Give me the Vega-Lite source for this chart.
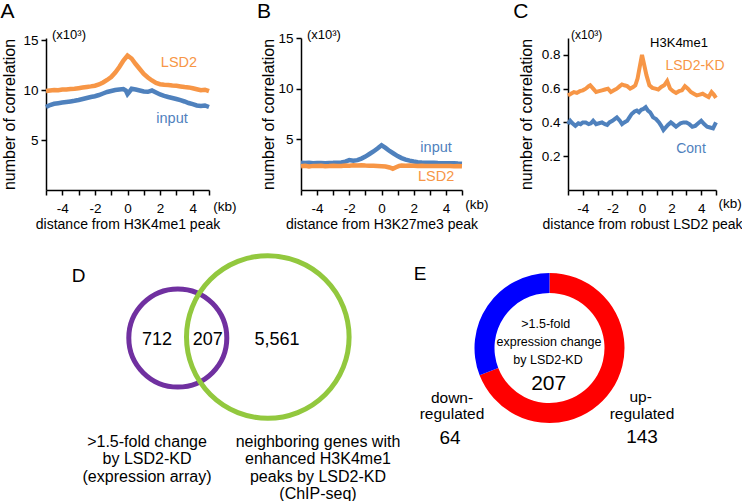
{
  "$schema": "https://vega.github.io/schema/vega-lite/v6.json",
  "padding": 0,
  "background": "white",
  "config": {
    "font": "Liberation Sans",
    "view": {"stroke": null},
    "axis": {"grid": false, "domainColor": "#000", "domainWidth": 1.5, "tickColor": "#000", "tickWidth": 1.5, "labelColor": "#000", "titleColor": "#000", "labelFontSize": 13.5, "titleFontWeight": "normal", "labelFont": "Liberation Sans", "titleFont": "Liberation Sans"},
    "axisX": {"tickSize": 5, "labelPadding": 6, "titleFontSize": 14, "titlePadding": 3, "labelFlush": false, "labelOverlap": false, "labelAngle": 0},
    "axisY": {"tickSize": 5, "labelPadding": 3, "titleFontSize": 16, "labelOverlap": false}
  },
  "datasets": {
    "a": [
      {"s":"LSD2","kb":-5,"v":9.9},{"s":"LSD2","kb":-4.75,"v":9.95},{"s":"LSD2","kb":-4.5,"v":10.0},{"s":"LSD2","kb":-4.25,"v":9.97},{"s":"LSD2","kb":-4,"v":10.05},{"s":"LSD2","kb":-3.75,"v":10.04},{"s":"LSD2","kb":-3.5,"v":10.1},{"s":"LSD2","kb":-3.25,"v":10.12},{"s":"LSD2","kb":-3,"v":10.18},{"s":"LSD2","kb":-2.75,"v":10.24},{"s":"LSD2","kb":-2.5,"v":10.3},{"s":"LSD2","kb":-2.25,"v":10.36},{"s":"LSD2","kb":-2,"v":10.43},{"s":"LSD2","kb":-1.75,"v":10.55},{"s":"LSD2","kb":-1.5,"v":10.75},{"s":"LSD2","kb":-1.25,"v":11.0},{"s":"LSD2","kb":-1,"v":11.3},{"s":"LSD2","kb":-0.75,"v":11.75},{"s":"LSD2","kb":-0.5,"v":12.3},{"s":"LSD2","kb":-0.25,"v":12.95},{"s":"LSD2","kb":0,"v":13.45},{"s":"LSD2","kb":0.25,"v":13.15},{"s":"LSD2","kb":0.5,"v":12.6},{"s":"LSD2","kb":0.75,"v":12.1},{"s":"LSD2","kb":1,"v":11.6},{"s":"LSD2","kb":1.25,"v":11.25},{"s":"LSD2","kb":1.5,"v":10.95},{"s":"LSD2","kb":1.75,"v":10.7},{"s":"LSD2","kb":2,"v":10.58},{"s":"LSD2","kb":2.25,"v":10.52},{"s":"LSD2","kb":2.5,"v":10.5},{"s":"LSD2","kb":2.75,"v":10.45},{"s":"LSD2","kb":3,"v":10.42},{"s":"LSD2","kb":3.25,"v":10.36},{"s":"LSD2","kb":3.5,"v":10.3},{"s":"LSD2","kb":3.75,"v":10.26},{"s":"LSD2","kb":4,"v":10.18},{"s":"LSD2","kb":4.25,"v":10.08},{"s":"LSD2","kb":4.5,"v":9.98},{"s":"LSD2","kb":4.75,"v":10.03},{"s":"LSD2","kb":5,"v":9.88},
      {"s":"input","kb":-5,"v":8.3},{"s":"input","kb":-4.75,"v":8.5},{"s":"input","kb":-4.5,"v":8.62},{"s":"input","kb":-4.25,"v":8.68},{"s":"input","kb":-4,"v":8.74},{"s":"input","kb":-3.75,"v":8.8},{"s":"input","kb":-3.5,"v":8.86},{"s":"input","kb":-3.25,"v":8.92},{"s":"input","kb":-3,"v":9.0},{"s":"input","kb":-2.75,"v":9.1},{"s":"input","kb":-2.5,"v":9.2},{"s":"input","kb":-2.25,"v":9.3},{"s":"input","kb":-2,"v":9.38},{"s":"input","kb":-1.75,"v":9.5},{"s":"input","kb":-1.5,"v":9.65},{"s":"input","kb":-1.25,"v":9.8},{"s":"input","kb":-1,"v":9.9},{"s":"input","kb":-0.75,"v":10.0},{"s":"input","kb":-0.5,"v":10.05},{"s":"input","kb":-0.25,"v":10.1},{"s":"input","kb":-0.1,"v":9.95},{"s":"input","kb":0,"v":9.6},{"s":"input","kb":0.1,"v":9.8},{"s":"input","kb":0.25,"v":10.12},{"s":"input","kb":0.5,"v":10.05},{"s":"input","kb":0.75,"v":9.95},{"s":"input","kb":1,"v":9.85},{"s":"input","kb":1.25,"v":9.82},{"s":"input","kb":1.5,"v":9.95},{"s":"input","kb":1.75,"v":9.75},{"s":"input","kb":2,"v":9.55},{"s":"input","kb":2.25,"v":9.42},{"s":"input","kb":2.5,"v":9.3},{"s":"input","kb":2.75,"v":9.2},{"s":"input","kb":3,"v":9.1},{"s":"input","kb":3.25,"v":8.98},{"s":"input","kb":3.5,"v":8.85},{"s":"input","kb":3.75,"v":8.7},{"s":"input","kb":4,"v":8.58},{"s":"input","kb":4.25,"v":8.45},{"s":"input","kb":4.5,"v":8.4},{"s":"input","kb":4.75,"v":8.45},{"s":"input","kb":5,"v":8.3}
    ],
    "b": [
      {"s":"input","kb":-5,"v":2.68},{"s":"input","kb":-4.75,"v":2.66},{"s":"input","kb":-4.5,"v":2.69},{"s":"input","kb":-4.25,"v":2.65},{"s":"input","kb":-4,"v":2.67},{"s":"input","kb":-3.75,"v":2.66},{"s":"input","kb":-3.5,"v":2.65},{"s":"input","kb":-3.25,"v":2.67},{"s":"input","kb":-3,"v":2.68},{"s":"input","kb":-2.75,"v":2.7},{"s":"input","kb":-2.5,"v":2.72},{"s":"input","kb":-2.25,"v":2.8},{"s":"input","kb":-2,"v":2.95},{"s":"input","kb":-1.75,"v":2.88},{"s":"input","kb":-1.5,"v":2.95},{"s":"input","kb":-1.25,"v":3.1},{"s":"input","kb":-1,"v":3.3},{"s":"input","kb":-0.75,"v":3.55},{"s":"input","kb":-0.5,"v":3.8},{"s":"input","kb":-0.25,"v":4.1},{"s":"input","kb":0,"v":4.42},{"s":"input","kb":0.25,"v":4.15},{"s":"input","kb":0.5,"v":3.85},{"s":"input","kb":0.75,"v":3.6},{"s":"input","kb":1,"v":3.35},{"s":"input","kb":1.25,"v":3.15},{"s":"input","kb":1.5,"v":3.0},{"s":"input","kb":1.75,"v":2.9},{"s":"input","kb":2,"v":2.82},{"s":"input","kb":2.25,"v":2.75},{"s":"input","kb":2.5,"v":2.72},{"s":"input","kb":2.75,"v":2.7},{"s":"input","kb":3,"v":2.7},{"s":"input","kb":3.25,"v":2.68},{"s":"input","kb":3.5,"v":2.66},{"s":"input","kb":3.75,"v":2.65},{"s":"input","kb":4,"v":2.64},{"s":"input","kb":4.25,"v":2.63},{"s":"input","kb":4.5,"v":2.65},{"s":"input","kb":4.75,"v":2.62},{"s":"input","kb":5,"v":2.6},
      {"s":"LSD2","kb":-5,"v":2.35},{"s":"LSD2","kb":-4.75,"v":2.4},{"s":"LSD2","kb":-4.5,"v":2.33},{"s":"LSD2","kb":-4.25,"v":2.38},{"s":"LSD2","kb":-4,"v":2.36},{"s":"LSD2","kb":-3.75,"v":2.4},{"s":"LSD2","kb":-3.5,"v":2.35},{"s":"LSD2","kb":-3.25,"v":2.37},{"s":"LSD2","kb":-3,"v":2.4},{"s":"LSD2","kb":-2.75,"v":2.36},{"s":"LSD2","kb":-2.5,"v":2.38},{"s":"LSD2","kb":-2.25,"v":2.42},{"s":"LSD2","kb":-2,"v":2.4},{"s":"LSD2","kb":-1.75,"v":2.45},{"s":"LSD2","kb":-1.5,"v":2.42},{"s":"LSD2","kb":-1.25,"v":2.45},{"s":"LSD2","kb":-1,"v":2.42},{"s":"LSD2","kb":-0.75,"v":2.4},{"s":"LSD2","kb":-0.5,"v":2.4},{"s":"LSD2","kb":-0.25,"v":2.38},{"s":"LSD2","kb":0,"v":2.35},{"s":"LSD2","kb":0.25,"v":2.32},{"s":"LSD2","kb":0.5,"v":2.22},{"s":"LSD2","kb":0.7,"v":2.1},{"s":"LSD2","kb":0.9,"v":2.25},{"s":"LSD2","kb":1.1,"v":2.38},{"s":"LSD2","kb":1.25,"v":2.42},{"s":"LSD2","kb":1.5,"v":2.4},{"s":"LSD2","kb":1.75,"v":2.42},{"s":"LSD2","kb":2,"v":2.4},{"s":"LSD2","kb":2.25,"v":2.38},{"s":"LSD2","kb":2.5,"v":2.4},{"s":"LSD2","kb":2.75,"v":2.38},{"s":"LSD2","kb":3,"v":2.36},{"s":"LSD2","kb":3.25,"v":2.38},{"s":"LSD2","kb":3.5,"v":2.36},{"s":"LSD2","kb":3.75,"v":2.38},{"s":"LSD2","kb":4,"v":2.36},{"s":"LSD2","kb":4.25,"v":2.38},{"s":"LSD2","kb":4.5,"v":2.35},{"s":"LSD2","kb":4.75,"v":2.37},{"s":"LSD2","kb":5,"v":2.35}
    ],
    "c": [
      {"s":"LSD2-KD","kb":-5,"v":0.56},{"s":"LSD2-KD","kb":-4.8,"v":0.57},{"s":"LSD2-KD","kb":-4.6,"v":0.58},{"s":"LSD2-KD","kb":-4.4,"v":0.575},{"s":"LSD2-KD","kb":-4.2,"v":0.585},{"s":"LSD2-KD","kb":-4.0,"v":0.59},{"s":"LSD2-KD","kb":-3.8,"v":0.6},{"s":"LSD2-KD","kb":-3.6,"v":0.615},{"s":"LSD2-KD","kb":-3.5,"v":0.62},{"s":"LSD2-KD","kb":-3.3,"v":0.6},{"s":"LSD2-KD","kb":-3.1,"v":0.58},{"s":"LSD2-KD","kb":-2.9,"v":0.585},{"s":"LSD2-KD","kb":-2.7,"v":0.59},{"s":"LSD2-KD","kb":-2.5,"v":0.595},{"s":"LSD2-KD","kb":-2.3,"v":0.6},{"s":"LSD2-KD","kb":-2.1,"v":0.58},{"s":"LSD2-KD","kb":-1.9,"v":0.59},{"s":"LSD2-KD","kb":-1.7,"v":0.6},{"s":"LSD2-KD","kb":-1.5,"v":0.615},{"s":"LSD2-KD","kb":-1.35,"v":0.625},{"s":"LSD2-KD","kb":-1.2,"v":0.62},{"s":"LSD2-KD","kb":-1.0,"v":0.615},{"s":"LSD2-KD","kb":-0.8,"v":0.6},{"s":"LSD2-KD","kb":-0.6,"v":0.61},{"s":"LSD2-KD","kb":-0.45,"v":0.62},{"s":"LSD2-KD","kb":-0.3,"v":0.66},{"s":"LSD2-KD","kb":-0.15,"v":0.73},{"s":"LSD2-KD","kb":0,"v":0.8},{"s":"LSD2-KD","kb":0.15,"v":0.74},{"s":"LSD2-KD","kb":0.3,"v":0.68},{"s":"LSD2-KD","kb":0.5,"v":0.62},{"s":"LSD2-KD","kb":0.7,"v":0.605},{"s":"LSD2-KD","kb":0.9,"v":0.6},{"s":"LSD2-KD","kb":1.1,"v":0.595},{"s":"LSD2-KD","kb":1.3,"v":0.61},{"s":"LSD2-KD","kb":1.5,"v":0.62},{"s":"LSD2-KD","kb":1.7,"v":0.645},{"s":"LSD2-KD","kb":1.9,"v":0.6},{"s":"LSD2-KD","kb":2.1,"v":0.585},{"s":"LSD2-KD","kb":2.3,"v":0.575},{"s":"LSD2-KD","kb":2.5,"v":0.585},{"s":"LSD2-KD","kb":2.7,"v":0.59},{"s":"LSD2-KD","kb":2.9,"v":0.615},{"s":"LSD2-KD","kb":3.1,"v":0.6},{"s":"LSD2-KD","kb":3.3,"v":0.58},{"s":"LSD2-KD","kb":3.5,"v":0.57},{"s":"LSD2-KD","kb":3.7,"v":0.56},{"s":"LSD2-KD","kb":3.9,"v":0.565},{"s":"LSD2-KD","kb":4.1,"v":0.57},{"s":"LSD2-KD","kb":4.3,"v":0.56},{"s":"LSD2-KD","kb":4.5,"v":0.55},{"s":"LSD2-KD","kb":4.7,"v":0.58},{"s":"LSD2-KD","kb":4.85,"v":0.565},{"s":"LSD2-KD","kb":5,"v":0.545},
      {"s":"Cont","kb":-5,"v":0.39},{"s":"Cont","kb":-4.85,"v":0.41},{"s":"Cont","kb":-4.7,"v":0.395},{"s":"Cont","kb":-4.5,"v":0.38},{"s":"Cont","kb":-4.3,"v":0.395},{"s":"Cont","kb":-4.15,"v":0.39},{"s":"Cont","kb":-4.0,"v":0.4},{"s":"Cont","kb":-3.8,"v":0.4},{"s":"Cont","kb":-3.6,"v":0.39},{"s":"Cont","kb":-3.45,"v":0.395},{"s":"Cont","kb":-3.3,"v":0.41},{"s":"Cont","kb":-3.1,"v":0.39},{"s":"Cont","kb":-2.9,"v":0.395},{"s":"Cont","kb":-2.7,"v":0.4},{"s":"Cont","kb":-2.5,"v":0.39},{"s":"Cont","kb":-2.35,"v":0.385},{"s":"Cont","kb":-2.2,"v":0.4},{"s":"Cont","kb":-2.0,"v":0.41},{"s":"Cont","kb":-1.85,"v":0.42},{"s":"Cont","kb":-1.7,"v":0.43},{"s":"Cont","kb":-1.5,"v":0.41},{"s":"Cont","kb":-1.35,"v":0.39},{"s":"Cont","kb":-1.2,"v":0.4},{"s":"Cont","kb":-1.0,"v":0.41},{"s":"Cont","kb":-0.85,"v":0.43},{"s":"Cont","kb":-0.7,"v":0.45},{"s":"Cont","kb":-0.5,"v":0.465},{"s":"Cont","kb":-0.35,"v":0.47},{"s":"Cont","kb":-0.2,"v":0.46},{"s":"Cont","kb":-0.05,"v":0.475},{"s":"Cont","kb":0.1,"v":0.48},{"s":"Cont","kb":0.25,"v":0.49},{"s":"Cont","kb":0.4,"v":0.47},{"s":"Cont","kb":0.55,"v":0.46},{"s":"Cont","kb":0.75,"v":0.43},{"s":"Cont","kb":0.95,"v":0.42},{"s":"Cont","kb":1.15,"v":0.4},{"s":"Cont","kb":1.3,"v":0.38},{"s":"Cont","kb":1.45,"v":0.355},{"s":"Cont","kb":1.6,"v":0.37},{"s":"Cont","kb":1.75,"v":0.385},{"s":"Cont","kb":1.95,"v":0.4},{"s":"Cont","kb":2.1,"v":0.39},{"s":"Cont","kb":2.3,"v":0.375},{"s":"Cont","kb":2.45,"v":0.385},{"s":"Cont","kb":2.6,"v":0.395},{"s":"Cont","kb":2.8,"v":0.4},{"s":"Cont","kb":3.0,"v":0.4},{"s":"Cont","kb":3.2,"v":0.39},{"s":"Cont","kb":3.4,"v":0.375},{"s":"Cont","kb":3.6,"v":0.38},{"s":"Cont","kb":3.8,"v":0.395},{"s":"Cont","kb":4.0,"v":0.41},{"s":"Cont","kb":4.2,"v":0.39},{"s":"Cont","kb":4.4,"v":0.375},{"s":"Cont","kb":4.6,"v":0.37},{"s":"Cont","kb":4.8,"v":0.365},{"s":"Cont","kb":5,"v":0.4}
    ]
  },
  "vconcat": [
    {
      "hconcat": [
        {
          "width": 163, "height": 152,
          "encoding": {
            "x": {"field": "kb", "type": "quantitative", "scale": {"domain": [-5, 5], "nice": false, "zero": false}, "axis": {"values": [-5,-4,-3,-2,-1,0,1,2,3,4,5], "labelExpr": "datum.value % 2 == 0 ? '' + datum.value : ''", "title": "distance from H3K4me1 peak"}},
            "y": {"field": "v", "type": "quantitative", "scale": {"domain": [0, 15.2], "nice": false}, "axis": {"values": [5, 10, 15], "title": "number of correlation", "titlePadding": 5.6}}
          },
          "layer": [
            {"data": {"name": "a"}, "mark": {"type": "line", "strokeWidth": 4.5}, "encoding": {"color": {"field": "s", "type": "nominal", "scale": {"domain": ["LSD2", "input"], "range": ["#F79646", "#4F81BD"]}, "legend": null}}},
            {"data": {"values": [{"s": "LSD2", "kb": 3.16, "v": 12.7}, {"s": "input", "kb": 2.73, "v": 7.1}]}, "mark": {"type": "text", "fontSize": 14.5}, "encoding": {"text": {"field": "s"}, "color": {"field": "s", "type": "nominal", "legend": null}}},
            {"data": {"values": [{"t": "(x10³)", "kb": -4.63, "v": 15.5}]}, "mark": {"type": "text", "fontSize": 13, "align": "left", "color": "#000"}, "encoding": {"text": {"field": "t"}}},
            {"data": {"values": [{"t": "(kb)", "kb": 5.98, "v": -1.7}]}, "mark": {"type": "text", "fontSize": 13.5, "color": "#000"}, "encoding": {"text": {"field": "t"}}},
            {"data": {"values": [{"t": "A", "kb": -7.36, "v": 17.8}]}, "mark": {"type": "text", "fontSize": 21, "color": "#000"}, "encoding": {"text": {"field": "t"}}}
          ]
        },
        {
          "hconcat": [
            {
              "width": 161, "height": 152,
              "encoding": {
                "x": {"field": "kb", "type": "quantitative", "scale": {"domain": [-5, 5], "nice": false, "zero": false}, "axis": {"values": [-5,-4,-3,-2,-1,0,1,2,3,4,5], "labelExpr": "datum.value % 2 == 0 ? '' + datum.value : ''", "title": "distance from H3K27me3 peak"}},
                "y": {"field": "v", "type": "quantitative", "scale": {"domain": [0, 15], "nice": false}, "axis": {"values": [5, 10, 15], "title": "number of correlation", "titlePadding": 1.6}}
              },
              "layer": [
                {"data": {"name": "b"}, "mark": {"type": "line", "strokeWidth": 4.5}, "encoding": {"color": {"field": "s", "type": "nominal", "scale": {"domain": ["LSD2", "input"], "range": ["#F79646", "#4F81BD"]}, "legend": null}}},
                {"data": {"values": [{"s": "input", "kb": 3.39, "v": 4.14}, {"s": "LSD2", "kb": 3.39, "v": 1.28}]}, "mark": {"type": "text", "fontSize": 14.5}, "encoding": {"text": {"field": "s"}, "color": {"field": "s", "type": "nominal", "legend": null}}},
                {"data": {"values": [{"t": "(x10³)", "kb": -4.63, "v": 15.3}]}, "mark": {"type": "text", "fontSize": 13, "align": "left", "color": "#000"}, "encoding": {"text": {"field": "t"}}},
                {"data": {"values": [{"t": "(kb)", "kb": 5.93, "v": -1.48}]}, "mark": {"type": "text", "fontSize": 13.5, "color": "#000"}, "encoding": {"text": {"field": "t"}}},
                {"data": {"values": [{"t": "B", "kb": -7.3, "v": 17.57}]}, "mark": {"type": "text", "fontSize": 21, "color": "#000"}, "encoding": {"text": {"field": "t"}}}
              ]
            },
            {
              "width": 148, "height": 152,
              "encoding": {
                "x": {"field": "kb", "type": "quantitative", "scale": {"domain": [-5, 5], "nice": false, "zero": false}, "axis": {"values": [-5,-4,-3,-2,-1,0,1,2,3,4,5], "labelExpr": "datum.value % 2 == 0 ? '' + datum.value : ''", "title": "distance from robust LSD2 peak"}},
                "y": {"field": "v", "type": "quantitative", "scale": {"domain": [0, 0.9], "nice": false}, "axis": {"values": [0.2, 0.4, 0.6, 0.8], "format": ".1f", "title": "number of correlation", "titlePadding": 7}}
              },
              "layer": [
                {"data": {"name": "c"}, "mark": {"type": "line", "strokeWidth": 4}, "encoding": {"color": {"field": "s", "type": "nominal", "scale": {"domain": ["LSD2-KD", "Cont"], "range": ["#F79646", "#4F81BD"]}, "legend": null}}},
                {"data": {"values": [{"s": "LSD2-KD", "kb": 3.58, "v": 0.734}, {"s": "Cont", "kb": 3.31, "v": 0.24}]}, "mark": {"type": "text", "fontSize": 14}, "encoding": {"text": {"field": "s"}, "color": {"field": "s", "type": "nominal", "legend": null}}},
                {"data": {"values": [{"t": "H3K4me1", "kb": 2.5, "v": 0.87}]}, "mark": {"type": "text", "fontSize": 13, "color": "#000"}, "encoding": {"text": {"field": "t"}}},
                {"data": {"values": [{"t": "(x10³)", "kb": -4.8, "v": 0.918}]}, "mark": {"type": "text", "fontSize": 12, "align": "left", "color": "#000"}, "encoding": {"text": {"field": "t"}}},
                {"data": {"values": [{"t": "(kb)", "kb": 5.95, "v": -0.083}]}, "mark": {"type": "text", "fontSize": 13.5, "color": "#000"}, "encoding": {"text": {"field": "t"}}},
                {"data": {"values": [{"t": "C", "kb": -8.18, "v": 1.054}]}, "mark": {"type": "text", "fontSize": 21, "color": "#000"}, "encoding": {"text": {"field": "t"}}}
              ]
            }
          ],
          "spacing": 106,
          "bounds": "flush",
          "resolve": {"scale": {"color": "independent"}}
        }
      ],
      "spacing": 92,
      "bounds": "flush",
      "resolve": {"scale": {"color": "independent"}}
    },
    {
      "hconcat": [
        {
          "width": 353, "height": 251,
          "encoding": {
            "x": {"field": "x", "type": "quantitative", "scale": {"domain": [0, 353], "nice": false, "zero": false}, "axis": null},
            "y": {"field": "y", "type": "quantitative", "scale": {"domain": [0, 251], "nice": false, "zero": false, "reverse": true}, "axis": null}
          },
          "layer": [
            {"data": {"values": [{"set": "expression array", "x": 131.8, "y": 86, "total": 919}, {"set": "ChIP-seq", "x": 221.8, "y": 85, "total": 5768}]}, "mark": {"type": "point", "shape": "circle", "filled": false, "strokeWidth": 5, "opacity": 1}, "encoding": {"color": {"field": "set", "type": "nominal", "scale": {"domain": ["expression array", "ChIP-seq"], "range": ["#7030A0", "#92C83E"]}, "legend": null}, "size": {"field": "total", "type": "quantitative", "scale": {"domain": [919, 5768], "range": [9604, 26439]}, "legend": null}}},
            {"data": {"values": [{"t": "712", "x": 111, "y": 88.3}, {"t": "207", "x": 161.8, "y": 88.3}, {"t": "5,561", "x": 231, "y": 88.3}]}, "mark": {"type": "text", "fontSize": 18, "color": "#000"}, "encoding": {"text": {"field": "t"}}},
            {"data": {"values": [{"t": ">1.5-fold change", "x": 101, "y": 189.5}, {"t": "by LSD2-KD", "x": 101, "y": 207}, {"t": "(expression array)", "x": 101, "y": 224.5}, {"t": "neighboring genes with", "x": 272, "y": 189.5}, {"t": "enhanced H3K4me1", "x": 272, "y": 207}, {"t": "peaks by LSD2-KD", "x": 272, "y": 224.5}, {"t": "(ChIP-seq)", "x": 272, "y": 241.5}]}, "mark": {"type": "text", "fontSize": 16, "color": "#000"}, "encoding": {"text": {"field": "t"}}},
            {"data": {"values": [{"t": "D", "x": 32.5, "y": 23.5}]}, "mark": {"type": "text", "fontSize": 19, "color": "#000"}, "encoding": {"text": {"field": "t"}}}
          ]
        },
        {
          "width": 221, "height": 192,
          "layer": [
            {"data": {"values": [{"dir": "up", "n": 143}, {"dir": "down", "n": 64}]}, "mark": {"type": "arc", "outerRadius": 75, "innerRadius": 55}, "encoding": {"theta": {"field": "n", "type": "quantitative", "stack": true}, "color": {"field": "dir", "type": "nominal", "scale": {"domain": ["up", "down"], "range": ["#FF0000", "#0000FF"]}, "legend": null}, "order": {"field": "n", "type": "quantitative", "sort": "descending"}}},
            {"data": {"values": [{"t": ">1.5-fold", "x": -3.8, "y": 24}, {"t": "expression change", "x": -0.5, "y": 6}, {"t": "by LSD2-KD", "x": -1.5, "y": -12}]}, "mark": {"type": "text", "fontSize": 12.5, "color": "#000"}, "encoding": {"x": {"field": "x", "type": "quantitative", "scale": {"domain": [-110.5, 110.5], "nice": false, "zero": false}, "axis": null}, "y": {"field": "y", "type": "quantitative", "scale": {"domain": [-96, 96], "nice": false, "zero": false}, "axis": null}, "text": {"field": "t"}}},
            {"data": {"values": [{"t": "207", "x": -0.8, "y": -36}]}, "mark": {"type": "text", "fontSize": 21, "color": "#000"}, "encoding": {"x": {"field": "x", "type": "quantitative", "scale": {"domain": [-110.5, 110.5], "nice": false, "zero": false}, "axis": null}, "y": {"field": "y", "type": "quantitative", "scale": {"domain": [-96, 96], "nice": false, "zero": false}, "axis": null}, "text": {"field": "t"}}},
            {"data": {"values": [{"t": "up-", "x": 91.2, "y": -49}, {"t": "regulated", "x": 92.5, "y": -65.5}, {"t": "down-", "x": -97.5, "y": -49.5}, {"t": "regulated", "x": -97.5, "y": -65.5}]}, "mark": {"type": "text", "fontSize": 15.5, "color": "#000"}, "encoding": {"x": {"field": "x", "type": "quantitative", "scale": {"domain": [-110.5, 110.5], "nice": false, "zero": false}, "axis": null}, "y": {"field": "y", "type": "quantitative", "scale": {"domain": [-96, 96], "nice": false, "zero": false}, "axis": null}, "text": {"field": "t"}}},
            {"data": {"values": [{"t": "143", "x": 92.5, "y": -89}, {"t": "64", "x": -99.5, "y": -89.5}]}, "mark": {"type": "text", "fontSize": 19, "color": "#000"}, "encoding": {"x": {"field": "x", "type": "quantitative", "scale": {"domain": [-110.5, 110.5], "nice": false, "zero": false}, "axis": null}, "y": {"field": "y", "type": "quantitative", "scale": {"domain": [-96, 96], "nice": false, "zero": false}, "axis": null}, "text": {"field": "t"}}},
            {"data": {"values": [{"t": "E", "x": -129.5, "y": 74}]}, "mark": {"type": "text", "fontSize": 19, "color": "#000"}, "encoding": {"x": {"field": "x", "type": "quantitative", "scale": {"domain": [-110.5, 110.5], "nice": false, "zero": false}, "axis": null}, "y": {"field": "y", "type": "quantitative", "scale": {"domain": [-96, 96], "nice": false, "zero": false}, "axis": null}, "text": {"field": "t"}}}
          ]
        }
      ],
      "spacing": 40,
      "bounds": "flush",
      "resolve": {"scale": {"color": "independent", "size": "independent"}}
    }
  ],
  "spacing": 214,
  "bounds": "flush",
  "resolve": {"scale": {"color": "independent", "size": "independent"}}
}
